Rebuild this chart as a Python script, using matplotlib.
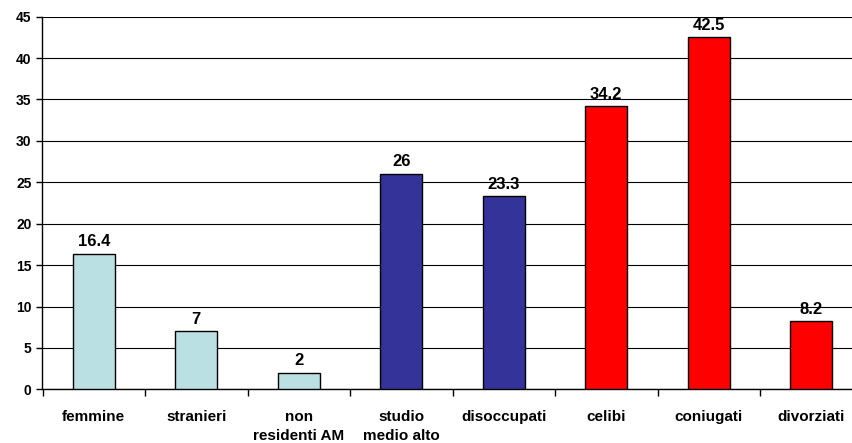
import matplotlib
matplotlib.use('Agg')
import matplotlib.pyplot as plt
import numpy as np

plt.rcParams['font.family'] = ['Liberation Sans', 'DejaVu Sans']

categories = ['femmine', 'stranieri', 'non\nresidenti AM', 'studio\nmedio alto',
              'disoccupati', 'celibi', 'coniugati', 'divorziati']
values = [16.4, 7, 2, 26, 23.3, 34.2, 42.5, 8.2]
labels = ['16.4', '7', '2', '26', '23.3', '34.2', '42.5', '8.2']
colors = ['#BBE0E3', '#BBE0E3', '#BBE0E3', '#333399', '#333399',
          '#FF0000', '#FF0000', '#FF0000']

fig = plt.figure(figsize=(8.53, 4.43), dpi=100)
# axes run past the right edge, like the cropped original
ax = fig.add_axes([42.5 / 853, 1 - 389.3 / 443, 820 / 853, (389.3 - 16.7) / 443])

x = np.arange(len(categories))
ax.bar(x, values, width=0.41, color=colors, edgecolor='black', linewidth=1, zorder=3)
for xi, v, lab in zip(x, values, labels):
    ax.text(xi, v + 0.55, lab, ha='center', va='bottom', fontsize=12,
            fontweight='bold', zorder=4)

ax.set_xlim(-0.5, len(categories) - 0.5)
ax.set_ylim(0, 45)
ax.set_yticks(np.arange(0, 46, 5))
ax.yaxis.grid(True, color='black', linewidth=0.8, zorder=0)
ax.set_axisbelow(True)

ax.set_xticks(x)
ax.set_xticklabels(categories, fontsize=11, fontweight='bold', linespacing=1.45)
ax.set_xticks(np.arange(-0.5, len(categories), 1), minor=True)
ax.tick_params(axis='x', which='major', length=0, pad=15)
ax.tick_params(axis='x', which='minor', length=5, width=1, direction='out')
ax.tick_params(axis='y', length=4, width=1, labelsize=10, pad=4)
for lab in ax.get_yticklabels():
    lab.set_fontweight('bold')

ax.spines['top'].set_visible(False)
ax.spines['right'].set_visible(False)
ax.spines['left'].set_linewidth(1)
ax.spines['bottom'].set_linewidth(1)

fig.savefig('out.png', dpi=100)
